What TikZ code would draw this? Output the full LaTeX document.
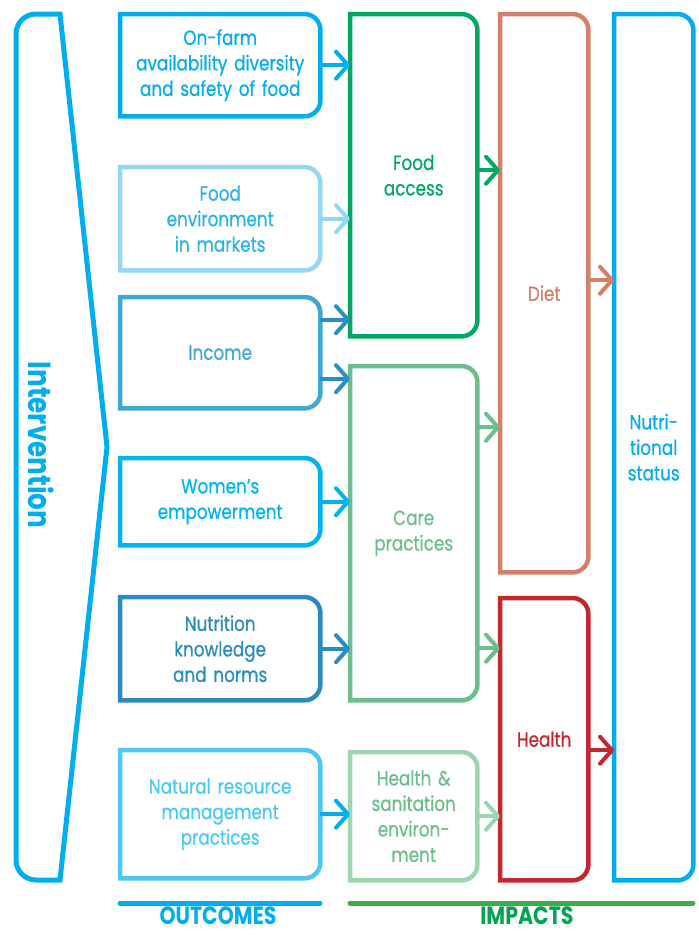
\documentclass[tikz,border=0pt]{standalone}
\usepackage{fontspec}
\setmainfont{Poppins}[FakeStretch=0.82, UprightFeatures={FakeBold=0.6}]
\usepackage{tikz}
\usetikzlibrary{arrows.meta,positioning,calc}
\usepackage{xcolor}

\definecolor{cyanA}{HTML}{00AEEF}
\definecolor{skyB}{HTML}{93D7F5}
\definecolor{skyText}{HTML}{29B4E8}
\definecolor{incomeC}{HTML}{3DA8D1}
\definecolor{incomeArr}{HTML}{2A8FC5}
\definecolor{womenC}{HTML}{00B4EF}
\definecolor{knowC}{HTML}{2A8BC1}
\definecolor{natC}{HTML}{4BC9F4}
\definecolor{accessC}{HTML}{00A862}
\definecolor{careC}{HTML}{6BBF8C}
\definecolor{hsC}{HTML}{9DD5B1}
\definecolor{dietC}{HTML}{D47F68}
\definecolor{healthC}{HTML}{C4272E}
\definecolor{impLine}{HTML}{3DAD4A}
\definecolor{impText}{HTML}{00A551}

% border with the two right corners rounded
\newcommand{\rbox}[2]{%
  \draw[#2, line width=4.5pt] (#1.south west) -- (#1.north west)
    -- ([xshift=-16pt]#1.north east) arc[start angle=90,end angle=0,radius=16pt]
    -- ([yshift=16pt]#1.south east) arc[start angle=0,end angle=-90,radius=16pt]
    -- cycle;}

\begin{document}
\begin{tikzpicture}[
    x=1pt, y=1pt,
    box/.style={inner sep=0pt, anchor=north west, align=center, font=\fontsize{20.5}{25.5}\selectfont},
    outbox/.style={box, minimum width=200pt, text width=200pt},
    colA/.style={box, minimum width=127pt, text width=127pt},
    colB/.style={box, minimum width=88pt, text width=88pt},
    colC/.style={box, minimum width=79pt, text width=79pt},
    arr/.style={line width=4pt, -{Straight Barb[length=12pt,width=27pt,round]}},
    heading/.style={inner sep=0pt, font=\bfseries\fontsize{25}{25}\selectfont},
    baseline/.style={line width=5pt, line cap=round}
]
    \useasboundingbox (0,0) rectangle (699,-935);

    \draw[cyanA, line width=5pt] (60,-14) -- (36,-14) arc[start angle=90,end angle=180,radius=20pt]
        -- (16,-860) arc[start angle=180,end angle=270,radius=20pt] -- (60,-880) -- (107,-447) -- cycle;
    \node[rotate=-90, text=cyanA, font=\bfseries\fontsize{32}{32}\selectfont] (interv) at (41,-445) {Intervention};

    \node[outbox, minimum height=102pt, text=cyanA] (onfarm) at (120,-14) {On-farm\\availability diversity\\and safety of food};
    \node[outbox, minimum height=103pt, text=skyText] (market) at (120,-167) {Food\\environment\\in markets};
    \node[outbox, minimum height=111pt, text=incomeC] (income) at (120,-297) {Income};
    \node[outbox, minimum height=87pt, text=womenC] (women) at (120,-458) {Women’s\\empowerment};
    \node[outbox, minimum height=103pt, text=knowC] (knowl) at (120,-597) {Nutrition\\knowledge\\and norms};
    \node[outbox, minimum height=128pt, text=natC] (natres) at (120,-750) {Natural resource\\management\\practices};

    \node[colA, minimum height=322pt, text=accessC] (access) at (350,-14) {Food\\access};
    \node[colA, minimum height=334pt, text=careC] (care) at (350,-366) {Care\\practices};
    \node[colA, minimum height=128pt, text=careC] (hsenv) at (350,-752) {Health \&\\sanitation\\environ-\\ment};

    \node[colB, minimum height=558pt, text=dietC] (diet) at (500,-14) {Diet};
    \node[colB, minimum height=282pt, text=healthC] (health) at (500,-598) {Health};

    \node[colC, minimum height=866pt, text=cyanA] (nutri) at (614,-14) {Nutri-\\tional\\status};

    \rbox{onfarm}{cyanA}
    \rbox{market}{skyB}
    \rbox{income}{incomeC}
    \rbox{women}{womenC}
    \rbox{knowl}{knowC}
    \rbox{natres}{natC}
    \rbox{access}{accessC}
    \rbox{care}{careC}
    \rbox{hsenv}{hsC}
    \rbox{diet}{dietC}
    \rbox{health}{healthC}
    \rbox{nutri}{cyanA}

    \draw[arr, cyanA] (onfarm.east) -- (onfarm.east -| access.west);
    \draw[arr, skyB] (market.east) -- (market.east -| access.west);
    \draw[arr, incomeArr] ([yshift=33pt]income.east) -- ([yshift=33pt]income.east -| access.west);
    \draw[arr, incomeArr] ([yshift=-26pt]income.east) -- ([yshift=-26pt]income.east -| care.west);
    \draw[arr, womenC] (women.east) -- (women.east -| care.west);
    \draw[arr, knowC] (knowl.east) -- (knowl.east -| care.west);
    \draw[arr, cyanA] (natres.east) -- (natres.east -| hsenv.west);
    \draw[arr, accessC] ([yshift=5pt]access.east) -- ([yshift=5pt]access.east -| diet.west);
    \draw[arr, careC] ([yshift=106pt]care.east) -- ([yshift=106pt]care.east -| diet.west);
    \draw[arr, careC] ([yshift=-115pt]care.east) -- ([yshift=-115pt]care.east -| health.west);
    \draw[arr, hsC] (hsenv.east) -- (hsenv.east -| health.west);
    \draw[arr, dietC] ([yshift=13pt]diet.east) -- ([yshift=13pt]diet.east -| nutri.west);
    \draw[arr, healthC] ([yshift=-11pt]health.east) -- ([yshift=-11pt]health.east -| nutri.west);

    \draw[baseline, cyanA] (120,-903) -- (320,-903);
    \draw[baseline, impLine] (350,-903) -- (693,-903);
    \node[heading, text=cyanA] (outcomes) at (218,-916) {OUTCOMES};
    \node[heading, text=impText] (impacts) at (527,-916) {IMPACTS};
\end{tikzpicture}
\end{document}
